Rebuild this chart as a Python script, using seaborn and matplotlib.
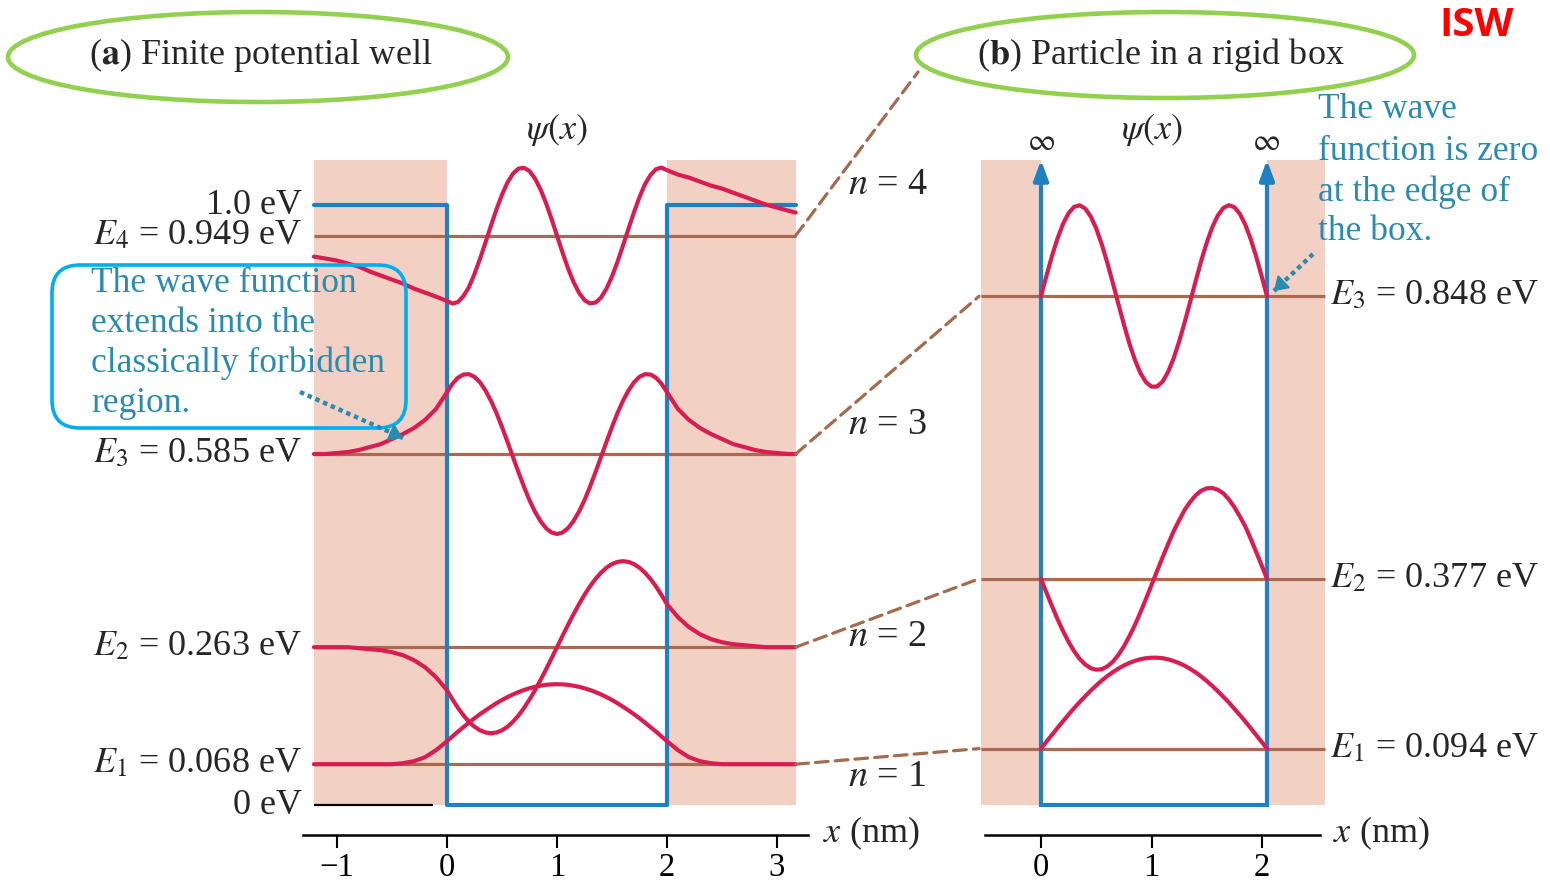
import matplotlib
matplotlib.use('Agg')
import matplotlib.pyplot as plt
from matplotlib.patches import Ellipse, FancyBboxPatch, ConnectionPatch
import seaborn as sns

sns.set_theme(style='white')
plt.rcParams['font.family'] = ['Liberation Serif', 'DejaVu Serif']
plt.rcParams['mathtext.fontset'] = 'stix'

# (a) finite potential well, energies in eV, x in nm
well_levels = [0.068, 0.263, 0.585, 0.949]
well_names = ['$E_1$ = 0.068 eV', '$E_2$ = 0.263 eV', '$E_3$ = 0.585 eV', '$E_4$ = 0.949 eV']
well_depth = 1.0
well_walls = [0.0, 2.0]
well_region = [-1.21, 3.17]
well_ticks = [-1, 0, 1, 2, 3]

# (b) rigid box
box_levels = [0.094, 0.377, 0.848]
box_names = ['$E_1$ = 0.094 eV', '$E_2$ = 0.377 eV', '$E_3$ = 0.848 eV']
box_walls = [0.0, 2.045]
box_region = [-0.543, 2.57]
box_ticks = [0, 1, 2]

region_top = 1.075

# wave functions (arbitrary units, drawn on top of each level)
well_x = [-1.21, -1.1, -1.0, -0.9, -0.8, -0.7, -0.6, -0.5, -0.4, -0.3, -0.2, -0.1,
          0.0, 0.05, 0.1, 0.15, 0.2, 0.25, 0.3, 0.35, 0.4, 0.45, 0.5, 0.55, 0.6, 0.65, 0.7, 0.75,
          0.8, 0.85, 0.9, 0.95, 1.0, 1.05, 1.1, 1.15, 1.2, 1.25, 1.3, 1.35, 1.4, 1.45, 1.5,
          1.55, 1.6, 1.65, 1.7, 1.75, 1.8, 1.85, 1.9, 1.95, 2.0,
          2.1, 2.2, 2.3, 2.4, 2.5, 2.6, 2.7, 2.8, 2.9, 3.0, 3.1, 3.17]
psi_well_1 = [0, 0, 0, 0, 0, 0, 0, 0, 1, 3, 7, 14,
              23.0, 27.8, 32.6, 37.1, 41.6, 45.9, 50.0, 53.8, 57.5, 61.0, 64.2, 67.1, 69.8, 72.1,
              74.2, 75.9, 77.4, 78.5, 79.4, 79.8, 80.0, 79.8, 79.4, 78.5, 77.4, 75.9, 74.2, 72.1,
              69.8, 67.1, 64.2, 61.0, 57.5, 53.8, 50.0, 45.9, 41.6, 37.1, 32.6, 27.8, 23.0,
              14, 7, 3, 1, 0, 0, 0, 0, 0, 0, 0, 0]
psi_well_2 = [0, 0, 0, 0, -1, -2, -3, -5, -8, -13, -20, -30,
              -43.0, -52.2, -60.8, -68.2, -74.5, -79.5, -83.1, -85.3, -86.0, -85.3, -83.1, -79.5,
              -74.5, -68.3, -60.8, -52.4, -43.0, -32.9, -22.3, -11.2, 0, 11.2, 22.3, 32.9, 43.0,
              52.4, 60.8, 68.3, 74.5, 79.5, 83.1, 85.3, 86.0, 85.3, 83.1, 79.5, 74.5, 68.2, 60.8,
              52.2, 43.0,
              30, 20, 13, 8, 5, 3, 2, 1, 0, 0, 0, 0]
psi_well_3 = [0, 0, 1, 2, 4, 7, 10, 15, 20, 26, 34, 45,
              61.8, 70.3, 76.3, 79.5, 79.8, 77.2, 71.7, 63.5, 53.2, 40.9, 27.0, 12.2, -3.1, -18.2,
              -32.8, -46.2, -57.7, -67.1, -74.2, -78.5, -80.0, -78.5, -74.2, -67.1, -57.7, -46.2,
              -32.8, -18.2, -3.1, 12.2, 27.0, 40.9, 53.2, 63.5, 71.7, 77.2, 79.8, 79.5, 76.3, 70.3,
              61.8,
              45, 34, 26, 20, 15, 10, 7, 4, 2, 1, 0, 0]
psi_well_4 = [-21, -23, -25, -28, -31, -36, -40, -44, -48, -53, -57, -61,
              -65.4, -68.0, -66.4, -60.5, -51.4, -38.4, -23.3, -6.9, 10.0, 26.3, 40.9, 53.1, 62.0,
              67.0, 67.8, 64.5, 57.1, 46.3, 32.6, 16.8, 0, -16.8, -32.6, -46.3, -57.1, -64.5, -67.8,
              -67.0, -62.0, -53.1, -40.9, -26.3, -10.0, 6.9, 23.3, 38.4, 51.4, 60.5, 66.4, 68.0,
              65.4,
              61, 58, 54, 50, 47, 43, 39, 35, 31, 28, 25, 23]

box_x = [0.0, 0.05, 0.1, 0.15, 0.2, 0.25, 0.3, 0.35, 0.4, 0.45, 0.5, 0.55, 0.6, 0.65, 0.7,
         0.75, 0.8, 0.85, 0.9, 0.95, 1.0, 1.05, 1.1, 1.15, 1.2, 1.25, 1.3, 1.35, 1.4, 1.45,
         1.5, 1.55, 1.6, 1.65, 1.7, 1.75, 1.8, 1.85, 1.9, 1.95, 2.0, 2.045]
psi_box_1 = [0, 7.0, 13.9, 20.8, 27.5, 34.1, 40.5, 46.6, 52.4, 58.0, 63.2, 68.1, 72.5, 76.5,
             80.0, 83.1, 85.7, 87.8, 89.4, 90.4, 90.9, 90.9, 90.4, 89.3, 87.6, 85.5, 82.9, 79.7,
             76.2, 72.1, 67.6, 62.7, 57.4, 51.8, 46.2, 39.8, 33.5, 27.0, 20.1, 13.2, 6.3, 0]
psi_box_2 = [0, -13.9, -27.5, -40.5, -52.4, -63.2, -72.5, -80.1, -85.7, -89.4, -90.9, -90.4,
             -87.6, -82.9, -76.2, -67.6, -57.4, -46.2, -33.5, -20.1, -6.3, 7.7, 21.4, 34.7, 47.4,
             58.5, 68.9, 76.9, 83.5, 88.1, 90.5, 90.9, 89.0, 85.5, 79.4, 71.7, 62.3, 52.1, 39.5,
             26.1, 12.6, 0]
psi_box_3 = [0, 20.8, 40.5, 58.0, 72.5, 83.1, 89.4, 90.9, 87.6, 79.7, 67.6, 51.8, 33.5, 13.2,
             -7.7, -28.2, -47.4, -63.7, -76.9, -86.0, -90.5, -90.3, -85.5, -75.7, -62.2, -45.4,
             -26.2, -5.6, 15.3, 35.4, 53.6, 69.0, 80.7, 88.2, 91.0, 89.0, 82.3, 71.2, 56.4, 38.6,
             18.8, 0]

psi_scale = 1 / 600  # eV of drawing per unit of psi

shade = '#f2d1c4'
blue = '#1f80c2'
red = '#d81e50'
level_c = '#a86b52'
dash_c = '#a36c4f'
teal = '#2a8ab0'
green = '#92d050'

W, H = 1550, 885
fig = plt.figure(figsize=(15.5, 8.85), dpi=100)


def px_axes(x0, x1, y0, y1):
    return fig.add_axes([x0 / W, 1 - y1 / H, (x1 - x0) / W, (y1 - y0) / H])


# 600 px per eV, 0 eV at pixel row 805
ax_a = px_axes(303, 808, 805 - 600 * 1.12, 805 + 600 * 0.08)
ax_b = px_axes(985, 1320, 805 - 600 * 1.12, 805 + 600 * 0.08)
ax_a.set_xlim(-1.309, 3.282)
ax_b.set_xlim(-0.507, 2.525)

for ax, ticks in ((ax_a, well_ticks), (ax_b, box_ticks)):
    ax.set_ylim(-0.08, 1.12)
    ax.set_facecolor('none')
    for s in ['top', 'right', 'left']:
        ax.spines[s].set_visible(False)
    ax.spines['bottom'].set_position(('data', -0.05))
    ax.spines['bottom'].set_linewidth(1.8)
    ax.spines['bottom'].set_color('black')
    ax.set_yticks([])
    ax.set_xticks(ticks)
    ax.tick_params(axis='x', bottom=True, direction='out', length=9, width=1.5,
                   labelsize=23.5, pad=3.5, colors='black')
    ax.grid(False)

# ---- panel (a)
ax_a.fill_between([well_region[0], well_walls[0]], 0, region_top, color=shade, lw=0, zorder=1)
ax_a.fill_between([well_walls[1], well_region[1]], 0, region_top, color=shade, lw=0, zorder=1)
ax_a.hlines(well_levels, well_region[0], well_region[1], color=level_c, lw=2.3, zorder=2)
ax_a.plot([well_region[0], well_walls[0], well_walls[0], well_walls[1], well_walls[1], well_region[1]],
          [well_depth, well_depth, 0, 0, well_depth, well_depth], color=blue, lw=3, zorder=3)
ax_a.hlines(0, well_region[0], -0.13, color='black', lw=1.6, zorder=2)
for E, psi in zip(well_levels, [psi_well_1, psi_well_2, psi_well_3, psi_well_4]):
    sns.lineplot(x=well_x, y=[E + p * psi_scale for p in psi], ax=ax_a, color=red,
                 lw=3, estimator=None, sort=False, zorder=4)
for E, name in zip(well_levels, well_names):
    ax_a.text(-1.32, E, name, ha='right', va='center', fontsize=26, clip_on=False)
ax_a.text(-1.32, well_depth, '1.0 eV', ha='right', va='center', fontsize=26)
ax_a.text(-1.32, 0, '0 eV', ha='right', va='center', fontsize=26)

# ---- panel (b)
ax_b.fill_between([box_region[0], box_walls[0]], 0, region_top, color=shade, lw=0, zorder=1,
                  clip_on=False)
ax_b.fill_between([box_walls[1], box_region[1]], 0, region_top, color=shade, lw=0, zorder=1,
                  clip_on=False)
ax_b.hlines(box_levels, box_region[0], box_region[1], color=level_c, lw=2.3, zorder=2,
            clip_on=False)
ax_b.plot(box_walls, [0, 0], color=blue, lw=3, zorder=3, solid_capstyle='projecting')
for xw in box_walls:
    ax_b.annotate('', xy=(xw, region_top), xytext=(xw, 0),
                  arrowprops=dict(arrowstyle='-|>,head_length=0.6,head_width=0.22', color=blue,
                                  lw=3, mutation_scale=20, shrinkA=0, shrinkB=0), zorder=3)
for E, psi in zip(box_levels, [psi_box_1, psi_box_2, psi_box_3]):
    sns.lineplot(x=box_x, y=[E + p * psi_scale for p in psi], ax=ax_b, color=red,
                 lw=3, estimator=None, sort=False, zorder=4)
for E, name in zip(box_levels, box_names):
    ax_b.text(2.615, E, name, ha='left', va='center', fontsize=26, clip_on=False)

# ---- overlay in pixel coordinates for annotations
ov = fig.add_axes([0, 0, 1, 1])
ov.set_xlim(0, W)
ov.set_ylim(H, 0)
ov.axis('off')
ov.patch.set_alpha(0)

# dashed connectors between matching levels
for Ea, Eb in zip(well_levels[:3], box_levels):
    cp = ConnectionPatch(xyA=(well_region[1], Ea), coordsA=ax_a.transData,
                         xyB=(-0.56, Eb), coordsB=ax_b.transData,
                         color=dash_c, lw=2.3, linestyle=(0, (4, 2.2)))
    fig.add_artist(cp)
cp = ConnectionPatch(xyA=(well_region[1], well_levels[3]), coordsA=ax_a.transData,
                     xyB=(918, 72), coordsB=ov.transData,
                     color=dash_c, lw=2.3, linestyle=(0, (4, 2.2)))
fig.add_artist(cp)

ov.add_patch(Ellipse((258, 57), 500, 90, fill=False, ec=green, lw=3.3))
ov.add_patch(Ellipse((1165, 55), 498, 86, fill=False, ec=green, lw=3.3))
ov.text(261, 55, r'($\mathbf{a}$) Finite potential well', ha='center', va='center', fontsize=26)
ov.text(1161, 55, r'($\mathbf{b}$) Particle in a rigid box', ha='center', va='center', fontsize=26)
ov.text(1477, 25, 'ISW', ha='center', va='center', fontsize=29, fontweight='bold',
        color='#ff0000', family=['Open Sans', 'DejaVu Sans'])

ov.text(557, 130, r'$\psi(x)$', ha='center', va='center', fontsize=26)
ov.text(1152, 130, r'$\psi(x)$', ha='center', va='center', fontsize=26)
ov.text(1041, 143, r'$\infty$', ha='center', va='center', fontsize=22)
ov.text(1266, 143, r'$\infty$', ha='center', va='center', fontsize=22)

for label, y in (('4', 185), ('3', 425), ('2', 637), ('1', 777)):
    ov.text(848, y, '$n$ = ' + label, ha='left', va='center', fontsize=27.5)
ov.text(823, 833, '$x$ (nm)', ha='left', va='center', fontsize=26)
ov.text(1333, 833, '$x$ (nm)', ha='left', va='center', fontsize=26)

# callout (a)
ov.add_patch(FancyBboxPatch((52, 265), 354, 163, boxstyle='round,pad=0,rounding_size=28',
                            fill=False, ec='#00aeef', lw=2.6))
for line, y in (('The wave function', 283), ('extends into the', 323),
                ('classically forbidden', 363), ('region.', 404)):
    ov.text(91, y, line, ha='left', va='center', fontsize=25.5, color=teal)


def dotted_arrow(x0, y0, x1, y1):
    ov.plot([x0, x1], [y0, y1], color=teal, lw=3.2, ls=(0, (1, 0.9)), dash_capstyle='butt')
    ov.annotate('', xy=(x1, y1), xytext=(x1 - (x1 - x0) * 0.12, y1 - (y1 - y0) * 0.12),
                arrowprops=dict(arrowstyle='-|>,head_length=0.45,head_width=0.3', color=teal,
                                lw=1.5, shrinkA=0, shrinkB=0, mutation_scale=18))


dotted_arrow(300, 392, 403, 438)

# callout (b)
for line, y in (('The wave', 110), ('function is zero', 152),
                ('at the edge of', 192), ('the box.', 232)):
    ov.text(1318, y, line, ha='left', va='center', fontsize=25.5, color=teal)
dotted_arrow(1313, 254, 1274, 291)

fig.savefig('out.png', dpi=100)
